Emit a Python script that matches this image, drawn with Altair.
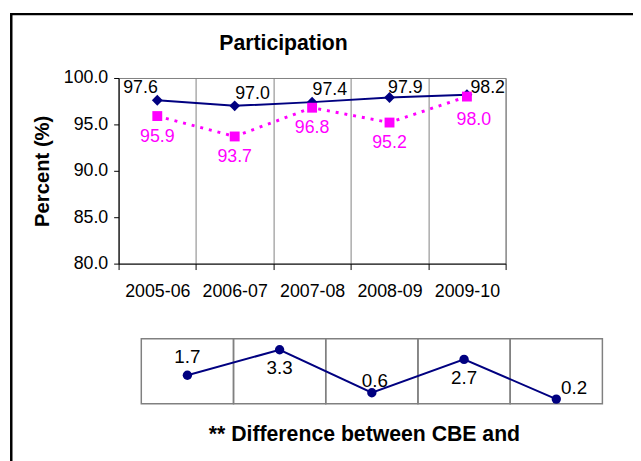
import altair as alt
import pandas as pd

years = ["2005-06", "2006-07", "2007-08", "2008-09", "2009-10"]
cbe = [97.6, 97.0, 97.4, 97.9, 98.2]
other = [95.9, 93.7, 96.8, 95.2, 98.0]
diff = [1.7, 3.3, 0.6, 2.7, 0.2]
y_ticks = [80, 85, 90, 95, 100]
title_text = "Participation"
y_title = "Percent (%)"
foot_text = "** Difference between CBE and"

df = pd.DataFrame({"year": years, "cbe": cbe, "other": other, "diff": diff,
                   "idx": list(range(len(years)))})
one = alt.Data(values=[{"k": 1}])

FONT = "Liberation Sans"
NAVY = "#000080"
MAG = "#FF00FF"
GRID = "#808080"

xs_top = alt.Scale(domain=years, paddingInner=0, paddingOuter=0)
ys_top = alt.Scale(domain=[80, 100], nice=False, zero=False)

x_axis = alt.Axis(title=None, tickBand="extent", grid=True, gridColor=GRID,
                  domainColor="#000", tickColor="#000", tickSize=6,
                  labelFontSize=18, labelFont=FONT, labelColor="#000",
                  labelPadding=13, labelAngle=0)
y_axis = alt.Axis(values=y_ticks, format=".1f", title=y_title, titleFont=FONT,
                  titleFontSize=20.5, titleFontWeight="bold", titleColor="#000",
                  titlePadding=11, grid=False, domainColor="#000", tickColor="#000",
                  tickSize=5, labelFontSize=18, labelFont=FONT, labelColor="#000",
                  labelPadding=6)

X = alt.X("year:N", scale=xs_top, sort=years, axis=x_axis)


def Y(field):
    return alt.Y(f"{field}:Q", scale=ys_top, axis=y_axis)


base = alt.Chart(df)

frame = alt.Chart(one).mark_rect(fill=None, stroke="#000", strokeWidth=2.5).encode(
    x=alt.value(-108.7), y=alt.value(-64.7), x2=alt.value(540), y2=alt.value(400))
title = alt.Chart(one).mark_text(text=title_text, font=FONT, fontSize=21.5, fontWeight="bold",
                                 color="#000", align="center", baseline="middle").encode(
    x=alt.value(167), y=alt.value(-34))

navy_line = base.mark_line(color=NAVY, strokeWidth=2).encode(x=X, y=Y("cbe"))
navy_pts = base.mark_point(shape="diamond", filled=True, color=NAVY, size=120, opacity=1).encode(
    x=X, y=Y("cbe"))
mag_line = base.mark_line(color=MAG, strokeWidth=3, strokeDash=[3, 6]).encode(x=X, y=Y("other"))
mag_pts = base.mark_point(shape="square", filled=True, color=MAG, size=100, opacity=1).encode(
    x=X, y=Y("other"))


def label_layers(src, xenc, yenc, field, color, groups, size):
    out = []
    for idxs, dx, dy in groups:
        out.append(src.transform_filter(alt.FieldOneOfPredicate(field="idx", oneOf=idxs))
                   .mark_text(dx=dx, dy=dy, font=FONT, fontSize=size, color=color,
                              baseline="middle", align="center")
                   .encode(x=xenc, y=yenc, text=alt.Text(f"{field}:Q", format=".1f")))
    return out


navy_lbl = label_layers(base, X, Y("cbe"), "cbe", "#000",
                        [([0], -17, -12), ([1, 2], 18, -12), ([3], 16, -10), ([4], 21, -7)], 18)
mag_lbl = label_layers(base, X, Y("other"), "other", MAG,
                       [([0, 1, 2, 3], 0, 21), ([4], 7, 24)], 18)

top = alt.layer(frame, title, navy_line, mag_line, navy_pts, mag_pts, *navy_lbl, *mag_lbl)

# bottom panel
xs_bot = alt.Scale(domain=years, range=[23, 490], paddingInner=0, paddingOuter=0)
ys_bot = alt.Scale(domain=[-0.1, 4.0], range=[330, 264], nice=False, zero=False)
XB = alt.X("year:N", scale=xs_bot, sort=years, axis=None)
YB = alt.Y("diff:Q", scale=ys_bot, axis=None)

cells = base.mark_rect(fill=None, stroke=GRID, strokeWidth=1.5).encode(
    x=XB, y=alt.Y(datum=4.0, scale=ys_bot, axis=None), y2=alt.Y2(datum=-0.1))
b_line = base.mark_line(color=NAVY, strokeWidth=2).encode(x=XB, y=YB)
b_pts = base.mark_circle(color=NAVY, size=90, opacity=1).encode(x=XB, y=YB)
b_lbl = label_layers(base, XB, YB, "diff", "#000",
                     [([0], 0, -18), ([1, 3], 0, 19), ([2], 3, -12), ([4], 18, -11)], 19)
foot = alt.Chart(one).mark_text(text=foot_text, font=FONT, fontSize=21.5, fontWeight="bold",
                                color="#000", align="center", baseline="middle").encode(
    x=alt.value(249), y=alt.value(362))

bottom = alt.layer(cells, b_line, b_pts, *b_lbl, foot)

chart = alt.layer(top, bottom).resolve_scale(x="independent", y="independent").properties(
    width=392, height=188,
    padding={"left": 112, "top": 68, "right": 129, "bottom": 197},
    autosize=alt.AutoSizeParams(type="none"),
    background="white",
).configure_view(stroke=GRID, strokeWidth=1)

chart.save("out.html", embed_options={"renderer": "svg", "actions": False})
